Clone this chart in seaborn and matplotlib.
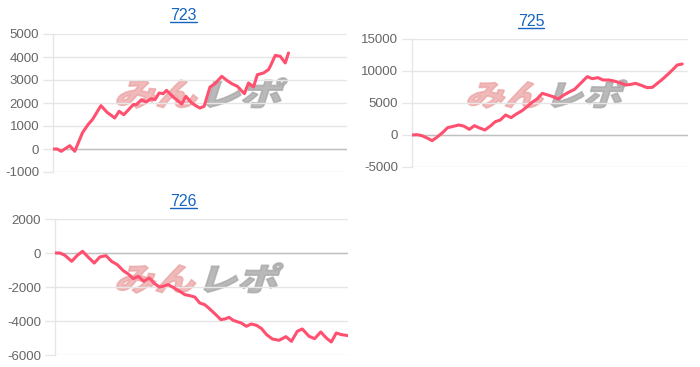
import numpy as np
import pandas as pd
import matplotlib
matplotlib.use("Agg")
import matplotlib.pyplot as plt
import seaborn as sns
from matplotlib.textpath import TextPath
from matplotlib.font_manager import FontProperties
from matplotlib.patches import PathPatch
from matplotlib.transforms import Affine2D, IdentityTransform, Bbox
from matplotlib.lines import Line2D

# ---------------- data ----------------
titles = ["723", "725", "726"]

x_723 = [0, 1.4, 2.8, 5.7, 7.4, 10.0, 11.9, 13.4, 16.3, 18.4, 21.0, 22.5, 24.1, 27.3, 28.4,
         30.1, 31.6, 33.5, 34.7, 36.1, 37.5, 38.6, 40.9, 43.8, 45.2, 47.2, 48.9, 50.0, 51.4,
         53.4, 55.1, 57.4, 59.1, 60.8, 62.7, 65.1, 66.5, 68.2, 69.5, 71.6, 73.3, 73.9, 75.6,
         77.3, 79.0, 80.1]
v_723 = [0, 0, -100, 145, -100, 700, 1060, 1275, 1885, 1595, 1350, 1640, 1490, 1930, 1930,
         2145, 2045, 2190, 2145, 2435, 2405, 2550, 2260, 1955, 2290, 2000, 1855, 1780, 1855,
         2695, 2840, 3160, 2985, 2840, 2725, 2405, 2870, 2695, 3230, 3305, 3450, 3595, 4070,
         4030, 3740, 4175]

x_725 = [0, 1.8, 3.6, 5.7, 7.3, 9.3, 11.2, 12.9, 14.5, 16.9, 18.7, 20.8, 22.6, 24.2, 26.4,
         28.4, 30.2, 32.0, 33.9, 35.9, 37.8, 39.9, 41.7, 43.5, 45.3, 47.2, 49.2, 51.1, 53.0,
         55.0, 57.2, 58.9, 61.1, 63.5, 65.3, 67.4, 69.2, 71.3, 73.2, 75.3, 77.4, 79.4, 81.0,
         83.4, 85.2, 87.1, 88.6, 90.7, 93.1, 94.7, 96.1, 97.9]
v_725 = [0, 50, -104, -520, -885, -260, 417, 1146, 1302, 1562, 1406, 885, 1458, 1146, 781,
         1406, 2083, 2343, 3125, 2708, 3281, 3802, 4427, 5104, 5625, 6510, 6250, 5990, 5625,
         6250, 6770, 7135, 8073, 9114, 8802, 8958, 8594, 8594, 8437, 8177, 7812, 7916, 8073,
         7708, 7396, 7448, 7969, 8698, 9635, 10312, 10937, 11094]

x_726 = [0, 1.7, 3.4, 5.7, 7.6, 9.4, 11.4, 13.4, 15.3, 17.4, 19.3, 21.3, 23.3, 25.0, 26.7,
         28.4, 30.3, 32.2, 33.9, 35.6, 36.9, 38.6, 40.3, 42.6, 44.3, 46.0, 47.7, 49.4, 51.1,
         52.8, 54.9, 56.6, 58.0, 59.4, 60.8, 62.5, 63.6, 65.3, 67.0, 68.8, 70.5, 72.2, 74.2,
         76.5, 78.8, 80.7, 82.7, 84.4, 86.7, 88.6, 90.7, 92.6, 94.3, 96.0, 97.7, 100]
v_726 = [0, 0, -140, -490, -140, 100, -255, -590, -235, -155, -490, -690, -1040, -1235, -1510,
         -1370, -1665, -1470, -1785, -2000, -1960, -1860, -2020, -2255, -2450, -2510, -2590,
         -2940, -3040, -3290, -3630, -3920, -3880, -3785, -3960, -4060, -4120, -4310, -4175,
         -4255, -4450, -4800, -5060, -5135, -4920, -5195, -4605, -4470, -4900, -5040, -4645,
         -5000, -5235, -4705, -4800, -4860]

yticks_723 = [-1000, 0, 1000, 2000, 3000, 4000, 5000]
yticks_725 = [-5000, 0, 5000, 10000, 15000]
yticks_726 = [-6000, -4000, -2000, 0, 2000]

# ---------------- style ----------------
sns.set_theme(style="white")
plt.rcParams['font.family'] = ['Liberation Sans', 'DejaVu Sans']

W, H = 700, 367
LINE = "#ff5070"
GRID = "#e6e6e6"
ZERO = "#c0c0c0"
TITLE_C = "#1565c0"

fig = plt.figure(figsize=(W / 100, H / 100), dpi=100)
fig.patch.set_facecolor("white")


def px_axes(x0, y0, x1, y1):
    return fig.add_axes([x0 / W, 1 - y1 / H, (x1 - x0) / W, (y1 - y0) / H])


def draw_logo(box):
    x0, y0, x1, y1 = box
    fp = FontProperties(family="Noto Sans CJK JP", weight="black")
    p1 = TextPath((0, 0), "みん", size=100, prop=fp)
    e1 = p1.get_extents()
    p2 = TextPath((e1.x1 + 8, 0), "レポ", size=100, prop=fp)
    skew = Affine2D().skew_deg(14, 0)
    p1 = skew.transform_path(p1)
    p2 = skew.transform_path(p2)
    bb = Bbox.union([p1.get_extents(), p2.get_extents()])
    sx = (x1 - x0) / bb.width
    sy = (y1 - y0) / bb.height
    tr = Affine2D().translate(-bb.x0, -bb.y0).scale(sx, sy).translate(x0, H - y1)
    for p, c, a in [(p1, "#eba3a3", 0.75), (p2, "#a8a8a8", 0.8)]:
        patch = PathPatch(tr.transform_path(p), facecolor=c, edgecolor=c, linewidth=1.2,
                          alpha=a, transform=IdentityTransform(), zorder=-1)
        fig.add_artist(patch)


panels = [
    dict(title=titles[0], x=x_723, y=v_723, box=(53, 34, 347, 172), ticks=yticks_723,
         tpos=(183.5, 20), logo=(117, 78, 287, 108)),
    dict(title=titles[1], x=x_725, y=v_725, box=(412, 39, 688, 167), ticks=yticks_725,
         tpos=(531, 26), logo=(468, 80, 627, 108)),
    dict(title=titles[2], x=x_726, y=v_726, box=(55, 219, 348, 355), ticks=yticks_726,
         tpos=(183.5, 206), logo=(117, 263, 283, 293)),
]

title_texts = []
for p in panels:
    draw_logo(p["logo"])
    ax = px_axes(*p["box"])
    ax.set_facecolor("none")
    df = pd.DataFrame({"x": p["x"], "y": p["y"]})
    sns.lineplot(data=df, x="x", y="y", ax=ax, color=LINE, linewidth=2.2, zorder=3)
    ax.lines[-1].set_solid_joinstyle("round")
    ax.set_xlim(0, 100)
    ax.set_ylim(p["ticks"][0], p["ticks"][-1])
    ax.set_yticks(p["ticks"])
    ax.set_yticklabels([str(t) for t in p["ticks"]])
    ax.set_xticks([])
    ax.set_xlabel("")
    ax.set_ylabel("")
    ax.grid(axis="y", color=GRID, linewidth=1)
    ax.set_axisbelow(True)
    for s in ["top", "right", "bottom"]:
        ax.spines[s].set_visible(False)
    ax.spines["left"].set_color(GRID)
    ax.spines["left"].set_linewidth(1)
    ax.axhline(0, color=ZERO, linewidth=1, zorder=2)
    ax.tick_params(axis="y", length=7, width=1, color=GRID, pad=3,
                   labelsize=9.5, labelcolor="#666666", left=True)
    tx, ty = p["tpos"]
    t = fig.text(tx / W, 1 - ty / H, p["title"], ha="center", va="baseline",
                 fontsize=11.5, color=TITLE_C)
    title_texts.append((t, ty))

fig.canvas.draw()
r = fig.canvas.get_renderer()
for t, ty in title_texts:
    bb = t.get_window_extent(r)
    yb = H - ty - 2
    fig.add_artist(Line2D([bb.x0, bb.x1], [yb, yb], color=TITLE_C, linewidth=1.0,
                          transform=IdentityTransform()))

fig.savefig("out.png", dpi=100)
